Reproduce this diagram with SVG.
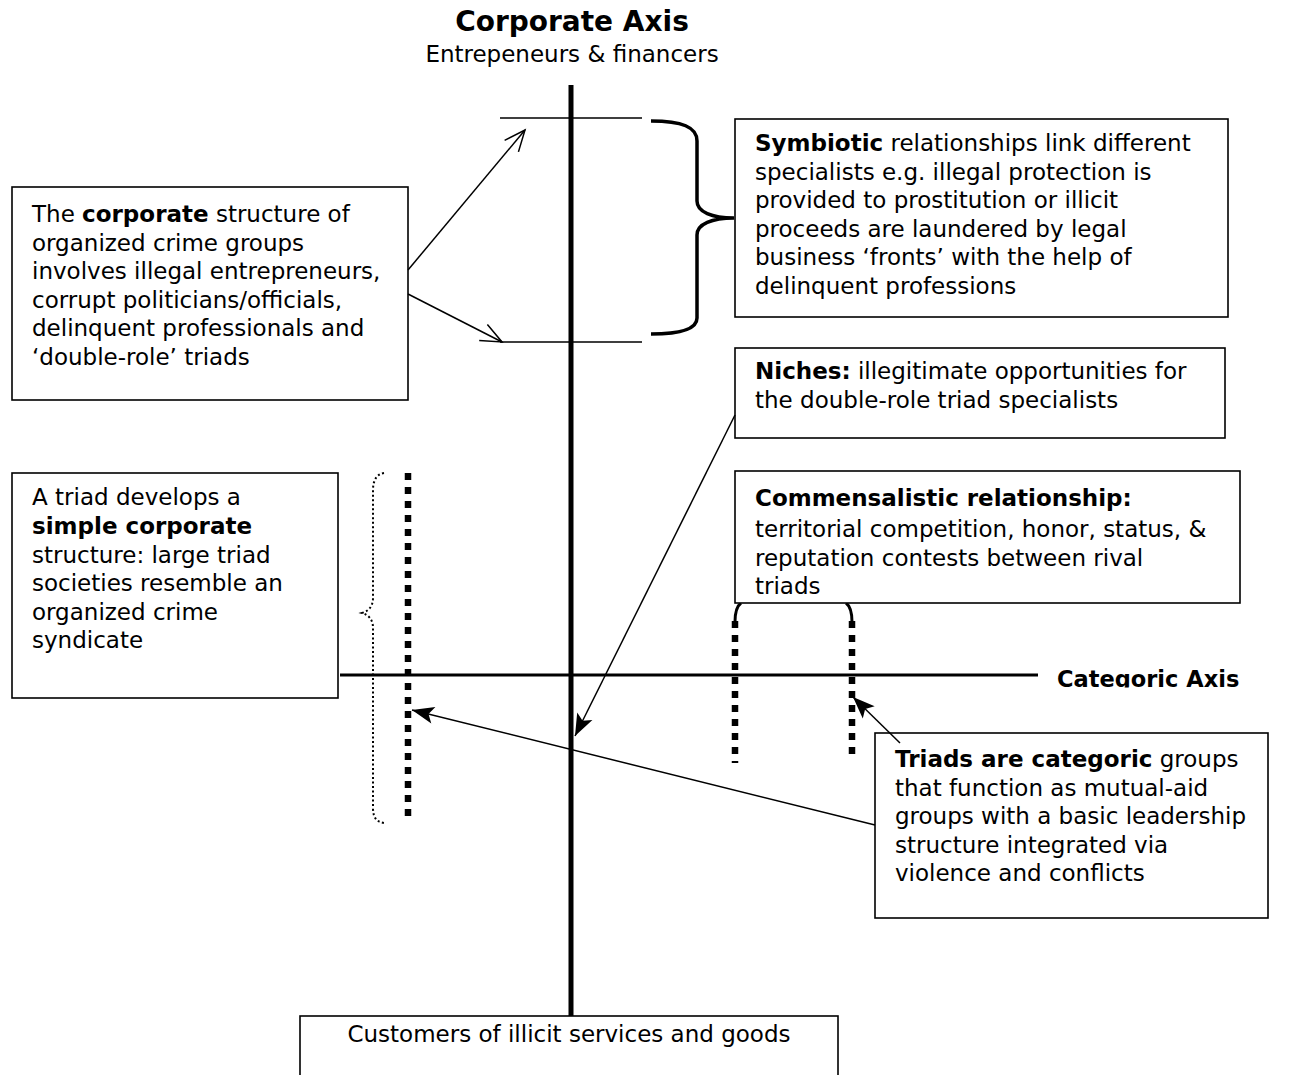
<svg xmlns="http://www.w3.org/2000/svg" width="1302" height="1075" viewBox="0 0 1302 1075">
<style>
text{font-family:"DejaVu Sans","Verdana",sans-serif;font-size:23px;fill:#000}
.b{font-weight:bold}
.box{fill:#fff;stroke:#000;stroke-width:1.6}
.thin{fill:none;stroke:#000;stroke-width:1.5}
.dots{fill:none;stroke:#000;stroke-width:6.5;stroke-dasharray:7 7}
</style>
<defs>
<marker id="open" markerUnits="userSpaceOnUse" markerWidth="30" markerHeight="30" viewBox="-25 -15 30 30" refX="0" refY="0" orient="auto">
<path d="M-21,-9 L0,0 L-21,9" fill="none" stroke="#000" stroke-width="1.5"/>
</marker>
<marker id="fill" markerUnits="userSpaceOnUse" markerWidth="30" markerHeight="30" viewBox="-25 -15 30 30" refX="0" refY="0" orient="auto">
<path d="M0,0 L-22,-8.5 L-17,0 L-22,8.5 Z" fill="#000"/>
</marker>
<clipPath id="catclip"><rect x="1040" y="640" width="262" height="47.5"/></clipPath>
</defs>

<g id="axes">
<path d="M571,85 V1017" stroke="#000" stroke-width="5" fill="none"/>
<path d="M340,675 H1038" stroke="#000" stroke-width="3" fill="none"/>
<path class="thin" d="M500,118 H642 M500,342 H642"/>
</g>

<g id="title">
<text class="b" x="572" y="31" text-anchor="middle" style="font-size:28px">Corporate Axis</text>
<text x="572" y="62" text-anchor="middle">Entrepeneurs &amp; financers</text>
</g>

<g id="categoric-label">
<text class="b" x="1057" y="687" clip-path="url(#catclip)" style="font-size:22.5px">Categoric Axis</text>
</g>

<g id="braces">
<path d="M651,121 C682,121 697,127 697,141 L697,201 C697,212 712,218 734,218 C712,218 697,224 697,235 L697,318 C697,329 682,334 651,334" fill="none" stroke="#000" stroke-width="3.5"/>
<path d="M384,473 C377,474 373,480 373,490 L373,598 C373,606 369,611 362,613 C369,615 373,620 373,628 L373,808 C373,818 377,822 384,823" fill="none" stroke="#000" stroke-width="2" stroke-dasharray="2 2.5"/>
<path class="dots" d="M408,473 V823"/>
<path class="dots" d="M735,621 V763"/>
<path class="dots" d="M852,621 V755"/>
<path d="M735,622 C735,611 737,606 741,603 M852,622 C852,611 850,606 846,603" fill="none" stroke="#000" stroke-width="3"/>
</g>

<g id="corporate-box">
<rect class="box" x="12" y="187" width="396" height="213"/>
<text x="32" y="222">The <tspan class="b">corporate</tspan> structure of</text>
<text x="32" y="250.5">organized crime groups</text>
<text x="32" y="279">involves illegal entrepreneurs,</text>
<text x="32" y="307.5">corrupt politicians/officials,</text>
<text x="32" y="336">delinquent professionals and</text>
<text x="32" y="364.5">‘double-role’ triads</text>
</g>

<g id="symbiotic-box">
<rect class="box" x="735" y="119" width="493" height="198"/>
<text x="755" y="151"><tspan class="b">Symbiotic</tspan> relationships link different</text>
<text x="755" y="179.5">specialists e.g. illegal protection is</text>
<text x="755" y="208">provided to prostitution or illicit</text>
<text x="755" y="236.5">proceeds are laundered by legal</text>
<text x="755" y="265">business ‘fronts’ with the help of</text>
<text x="755" y="293.5">delinquent professions</text>
</g>

<g id="niches-box">
<rect class="box" x="735" y="348" width="490" height="90"/>
<text x="755" y="379"><tspan class="b">Niches:</tspan> illegitimate opportunities for</text>
<text x="755" y="407.5">the double-role triad specialists</text>
</g>

<g id="commensal-box">
<rect class="box" x="735" y="471" width="505" height="132"/>
<text x="755" y="506" class="b">Commensalistic relationship:</text>
<text x="755" y="537">territorial competition, honor, status, &amp;</text>
<text x="755" y="565.5">reputation contests between rival</text>
<text x="755" y="594">triads</text>
</g>

<g id="simple-corporate-box">
<rect class="box" x="12" y="473" width="326" height="225"/>
<text x="32" y="505">A triad develops a</text>
<text x="32" y="534" class="b">simple corporate</text>
<text x="32" y="562.5">structure: large triad</text>
<text x="32" y="591">societies resemble an</text>
<text x="32" y="619.5">organized crime</text>
<text x="32" y="648">syndicate</text>
</g>

<g id="categoric-box">
<rect class="box" x="875" y="733" width="393" height="185"/>
<text x="895" y="767"><tspan class="b">Triads are categoric</tspan> groups</text>
<text x="895" y="795.5">that function as mutual-aid</text>
<text x="895" y="824">groups with a basic leadership</text>
<text x="895" y="852.5">structure integrated via</text>
<text x="895" y="881">violence and conflicts</text>
</g>

<g id="customers-box">
<rect class="box" x="300" y="1016" width="538" height="80"/>
<text x="569" y="1042" text-anchor="middle">Customers of illicit services and goods</text>
</g>

<g id="connectors">
<path class="thin" d="M408,270 L525,130" marker-end="url(#open)"/>
<path class="thin" d="M408,294 L502,342" marker-end="url(#open)"/>
<path class="thin" d="M735,415 L575,736" marker-end="url(#fill)"/>
<path class="thin" d="M875,825 L412,710" marker-end="url(#fill)"/>
<path class="thin" d="M900,743 L853,697" marker-end="url(#fill)"/>
</g>
</svg>
